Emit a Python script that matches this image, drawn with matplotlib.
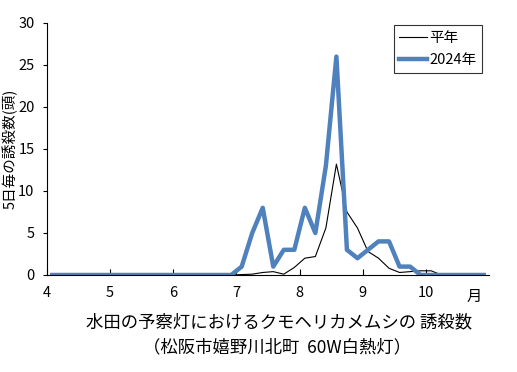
import numpy as np
import matplotlib.pyplot as plt

plt.rcParams['font.family'] = ['Noto Sans CJK JP', 'DejaVu Sans']

# 5日毎(半旬)の誘殺数 4月第1半旬～10月第6半旬
heinen = [0, 0, 0, 0, 0, 0,                 # 4月
          0, 0, 0, 0, 0, 0,                 # 5月
          0, 0, 0, 0, 0, 0,                 # 6月
          0.05, 0.1, 0.3, 0.4, 0.1, 0.9,    # 7月
          2.0, 2.2, 5.6, 13.2, 7.5, 5.6,    # 8月
          2.8, 2.0, 0.8, 0.3, 0.4, 0.5,     # 9月
          0.5, 0, 0, 0, 0, 0]               # 10月
y2024 = [0, 0, 0, 0, 0, 0,
         0, 0, 0, 0, 0, 0,
         0, 0, 0, 0, 0, 0,
         1, 5, 8, 1, 3, 3,
         8, 5, 13, 26, 3, 2,
         3, 4, 4, 1, 1, 0,
         0, 0, 0, 0, 0, 0]
months = [4, 5, 6, 7, 8, 9, 10]

# 各半旬の中央に配置
x = 4 + (np.arange(len(y2024)) + 0.5) / 6

fig = plt.figure(figsize=(5.17, 3.72), dpi=100)
ax = fig.add_axes([47/517, 1-275/372, (489-47)/517, (275-23)/372])

ax.plot(x, heinen, color='black', lw=0.8, label='平年')
ax.plot(x, y2024, color='#4F81BD', lw=3.2, label='2024年')

ax.set_xlim(4, 11)
ax.set_ylim(0, 30)
ax.set_yticks(range(0, 31, 5))
ax.set_xticks(months)
ax.set_xticklabels([str(m) for m in months])
ax.tick_params(axis='x', direction='in', length=4, labelsize=10.5, pad=8)
ax.tick_params(axis='y', direction='out', length=3, labelsize=10.5, pad=6)
ax.spines['top'].set_visible(False)
ax.spines['right'].set_visible(False)
for s in ax.spines.values():
    s.set_linewidth(0.8)

ax.text(10.76, -1.55, '月', ha='center', va='top', fontsize=11)
ax.set_ylabel('5日毎の誘殺数(頭)', fontsize=10.5)
ax.yaxis.set_label_coords(-0.066, 0.5)

leg = ax.legend(loc='upper right', bbox_to_anchor=(0.995, 1.01), fontsize=10.5,
                frameon=True, fancybox=False, edgecolor='black',
                handlelength=1.9, handletextpad=0.15, borderpad=0.4,
                borderaxespad=0.3, labelspacing=0.55)
leg.get_frame().set_linewidth(0.8)

fig.text(279/517, 1-322/372, '水田の予察灯におけるクモヘリカメムシの 誘殺数',
         ha='center', va='center', fontsize=12.5)
fig.text(277/517, 1-347/372, '（松阪市嬉野川北町  60W白熱灯）',
         ha='center', va='center', fontsize=12.5)

fig.savefig('out.png', dpi=100)
